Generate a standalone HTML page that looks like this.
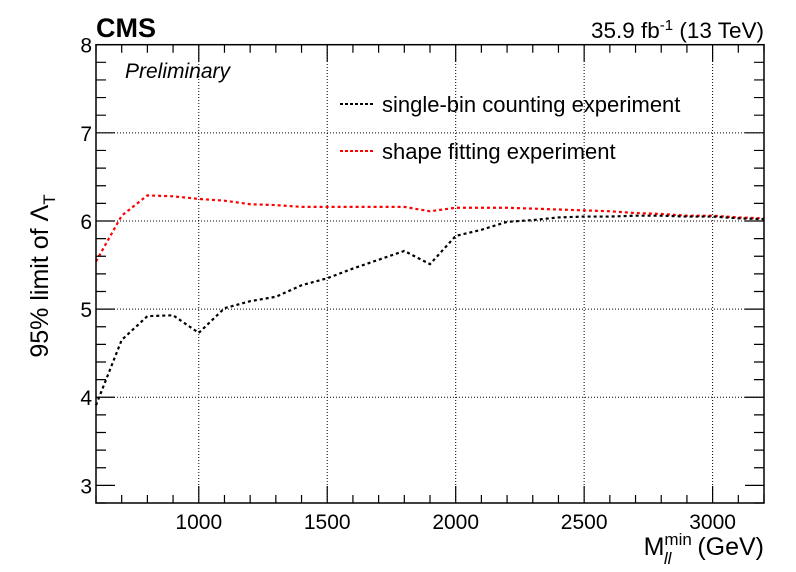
<!DOCTYPE html>
<html><head><meta charset="utf-8"><style>
body{margin:0;background:#fff}
svg{display:block;font-family:"Liberation Sans",sans-serif}
</style></head><body>
<svg id="c" width="796" height="572">
<g id="grid"></g>
<g id="series"></g>
<g id="axes"></g>
<text x="96" y="37" font-size="27" font-weight="bold">CMS</text>
<text x="125" y="78" font-size="21" font-style="italic">Preliminary</text>
<text x="764" y="38" font-size="22.5" text-anchor="end">35.9 fb<tspan dy="-8" font-size="15">-1</tspan><tspan dy="8"> (13 TeV)</tspan></text>
<g>
<line x1="340" y1="104" x2="374" y2="104" stroke="#000" stroke-width="2" stroke-dasharray="3,2"/>
<text x="382" y="112" font-size="22">single-bin counting experiment</text>
<line x1="340" y1="151" x2="374" y2="151" stroke="#f00" stroke-width="2" stroke-dasharray="3,2"/>
<text x="382" y="159" font-size="22">shape fitting experiment</text>
</g>
<text x="764" y="555" font-size="25" text-anchor="end">M<tspan font-size="17" dy="-10">min</tspan><tspan font-size="17" font-style="italic" dx="-28" dy="19">ll</tspan><tspan dy="-9" dx="19"> (GeV)</tspan></text>
<text transform="translate(48,276) rotate(-90)" font-size="25" text-anchor="middle">95% limit of Λ<tspan font-size="17" dy="7">T</tspan></text>
</svg>
<script>
const masses=[600,700,800,900,1000,1100,1200,1300,1400,1500,1600,1700,1800,1900,2000,2100,2200,2300,2400,2500,2600,2700,2800,2900,3000,3100,3200];
const singleBin=[3.91,4.65,4.92,4.93,4.73,5.01,5.09,5.14,5.27,5.35,5.46,5.56,5.66,5.51,5.83,5.90,5.99,6.01,6.04,6.05,6.05,6.06,6.06,6.05,6.05,6.03,6.02];
const shapeFit=[5.54,6.06,6.29,6.28,6.25,6.23,6.19,6.18,6.16,6.16,6.16,6.16,6.16,6.11,6.15,6.15,6.15,6.14,6.13,6.12,6.11,6.09,6.08,6.06,6.06,6.04,6.03];
const xTicks=[1000,1500,2000,2500,3000];
const yTicks=[3,4,5,6,7,8];
const X0=96,X1=764,Y0=503,Y1=44.7,xmin=600,xmax=3200,ymin=2.8,ymax=8;
const sx=v=>X0+(v-xmin)/(xmax-xmin)*(X1-X0);
const sy=v=>Y0-(v-ymin)/(ymax-ymin)*(Y0-Y1);
const NS='http://www.w3.org/2000/svg';
function mk(t,a,p){const e=document.createElementNS(NS,t);for(const k in a)e.setAttribute(k,a[k]);p.appendChild(e);return e;}
const grid=document.getElementById('grid'),axes=document.getElementById('axes'),ser=document.getElementById('series');
xTicks.forEach(v=>{const l=mk('line',{x1:sx(v),x2:sx(v),y1:Y0,y2:Y1,stroke:'#000','stroke-width':1,'stroke-dasharray':'1,2'},grid);


const t=mk('text',{x:sx(v),y:Y0+26,'font-size':21,'text-anchor':'middle'},axes);t.textContent=v;

});
yTicks.forEach(v=>{if(v>3&&v<8){const l=mk('line',{x1:X0,x2:X1,y1:sy(v),y2:sy(v),stroke:'#000','stroke-width':1,'stroke-dasharray':'1,2'},grid);

}
const t=mk('text',{x:X0-4,y:sy(v)+8,'font-size':21,'text-anchor':'end'},axes);t.textContent=v;

});
let d='';
for(let v=600;v<=3200;v+=100){const L=v%500===0?17:8;const x=sx(v);d+=`M${x},${Y0}v${-L}M${x},${Y1}v${L}`;}
for(let i=14;i<=40;i++){const v=i/5;const L=i%5===0?19:10;const y=sy(v);d+=`M${X0},${y}h${L}M${X1},${y}h${-L}`;}
const tk=mk('path',{d:d,stroke:'#000','stroke-width':1.2,fill:'none'},axes);


const fr=mk('rect',{x:X0,y:Y1,width:X1-X0,height:Y0-Y1,fill:'none',stroke:'#000','stroke-width':1.5},axes);


function line(vals,col,name){const p=mk('polyline',{points:masses.map((m,i)=>sx(m)+','+sy(vals[i])).join(' '),fill:'none',stroke:col,'stroke-width':2.2,'stroke-dasharray':'3,3'},ser);

}
line(shapeFit,'#f00','shape-fit-line');
line(singleBin,'#000','single-bin-line');
</script>
</body></html>
